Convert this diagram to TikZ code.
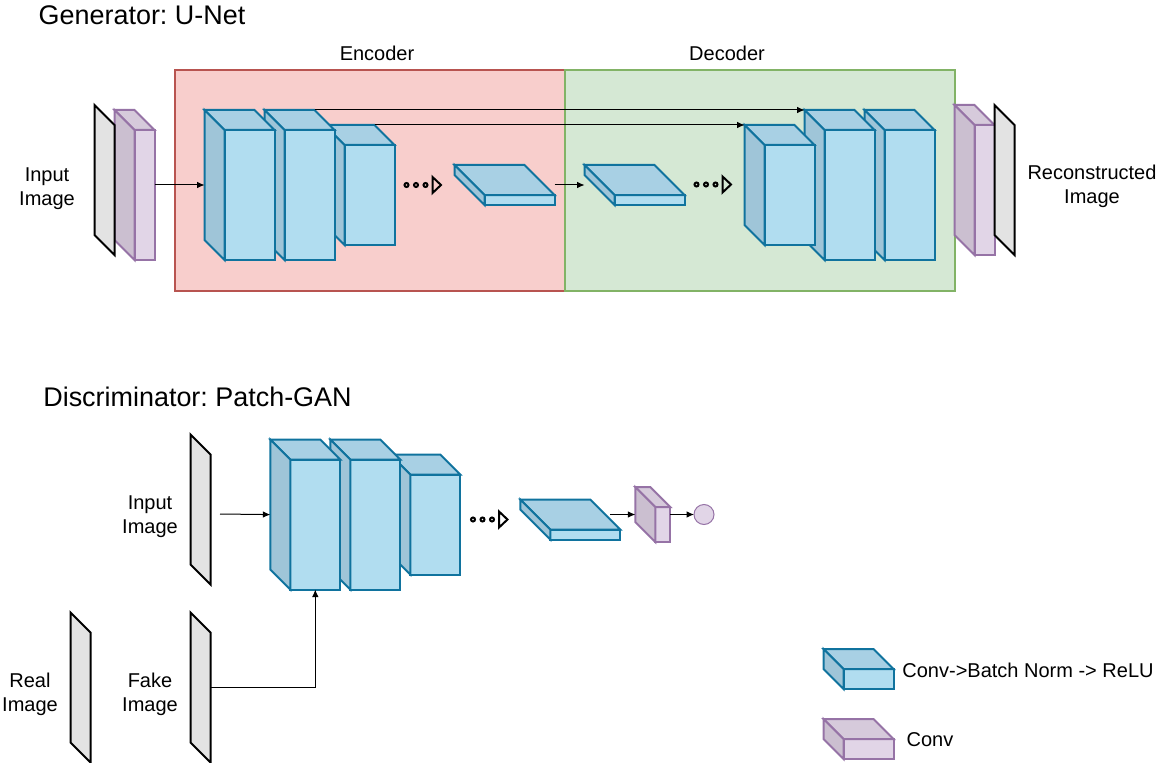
\documentclass[tikz,border=0pt]{standalone}
\usepackage{fontspec}
\setmainfont{Liberation Sans}
\usetikzlibrary{arrows.meta}
\frenchspacing
\definecolor{blueF}{HTML}{B1DDF0}\definecolor{blueT}{HTML}{A8D0E4}\definecolor{blueL}{HTML}{9FC5D8}\definecolor{blueS}{HTML}{10739E}
\definecolor{purpF}{HTML}{E1D5E7}\definecolor{purpT}{HTML}{D6CADB}\definecolor{purpL}{HTML}{CBBFD0}\definecolor{purpS}{HTML}{9673A6}
\definecolor{redF}{HTML}{F8CECC}\definecolor{redS}{HTML}{B85450}
\definecolor{greenF}{HTML}{D5E8D4}\definecolor{greenS}{HTML}{82B366}
\definecolor{slabF}{HTML}{E3E3E3}
\tikzset{
  px/.style={line width=#1*0.75pt},
  face/.style={px=2,line join=miter},
  ghost/.style={inner sep=0pt,outer sep=0pt,draw=none,fill=none},
  slabshape/.style={px=2,draw=black,fill=slabF,line join=miter},
  regionred/.style={px=2,draw=redS,fill=redF},
  regiongreen/.style={px=2,draw=greenS,fill=greenF},
  conn/.style={px=1,draw=black,-{Latex[length=5.6pt,width=5pt]}},
  lbl/.style={inner sep=0pt,outer sep=0pt,align=center,font=\fontsize{15}{18}\selectfont},
  ttl/.style={inner sep=0pt,outer sep=0pt,font=\fontsize{20.2}{24}\selectfont},
  contmark/.style={px=2,draw=black,line join=miter},
  genshift/.style={xshift=-0.375pt},
}
% name, x, y, W, H, dx, dy, colour prefix
\newcommand{\boxcube}[8]{%
  \pgfmathsetmacro{\xa}{#2}\pgfmathsetmacro{\ya}{#3}
  \pgfmathsetmacro{\xb}{#2+#6}\pgfmathsetmacro{\yb}{#3+#7}
  \pgfmathsetmacro{\xc}{#2+#4}\pgfmathsetmacro{\yc}{#3+#5}
  \pgfmathsetmacro{\xd}{#2+#4-#6}\pgfmathsetmacro{\yd}{#3+#5-#7}
  \pgfmathsetmacro{\xm}{#2+#4/2}\pgfmathsetmacro{\ym}{#3+#5/2}
  \pgfmathsetmacro{\xf}{(#2+#6+#2+#4)/2}
  \filldraw[face,draw=#8S,fill=#8F] (\xb,\yb) rectangle (\xc,\yc);
  \filldraw[face,draw=#8S,fill=#8T] (\xa,\ya) -- (\xd,\ya) -- (\xc,\yb) -- (\xb,\yb) -- cycle;
  \filldraw[face,draw=#8S,fill=#8L] (\xa,\ya) -- (\xb,\yb) -- (\xb,\yc) -- (\xa,\yd) -- cycle;
  \node[ghost,minimum width=#4*0.75pt,minimum height=#5*0.75pt] (#1) at (\xm,\ym) {};
  \coordinate (#1-bt) at (\xd,\ya);
  \coordinate (#1-fb) at (\xf,\yc);
}
% name, x, y
\newcommand{\slab}[3]{%
  \pgfmathsetmacro{\xa}{#2}\pgfmathsetmacro{\ya}{#3}
  \pgfmathsetmacro{\xb}{#2+20}\pgfmathsetmacro{\yb}{#3+20}
  \pgfmathsetmacro{\yc}{#3+150}\pgfmathsetmacro{\yd}{#3+130}
  \filldraw[slabshape] (\xa,\ya) -- (\xb,\yb) -- (\xb,\yc) -- (\xa,\yd) -- cycle;
  \pgfmathsetmacro{\xm}{#2+10}\pgfmathsetmacro{\ym}{#3+75}
  \node[ghost,minimum width=15pt,minimum height=112.5pt] (#1) at (\xm,\ym) {};
}
\newcommand{\contdots}[2]{%
  \foreach \k in {0,9.5,19}{\pgfmathsetmacro{\xk}{#1+\k}\draw[contmark] (\xk,#2) circle[radius=2];}
  \pgfmathsetmacro{\xt}{#1+26}\pgfmathsetmacro{\xu}{#1+34.5}
  \pgfmathsetmacro{\yt}{#2-8}\pgfmathsetmacro{\yu}{#2+8}
  \draw[contmark] (\xt,\yt) -- (\xu,#2) -- (\xt,\yu) -- cycle;
}
\begin{document}
\begin{tikzpicture}[x=0.75pt,y=-0.75pt]
\useasboundingbox (0,0) rectangle (1163,763);
\node[lbl] (tEnc) at (377,53.5) {Encoder};
\node[lbl] (tDec) at (727,53.5) {Decoder};
\node[ttl] (tGen) at (142,15) {Generator: U-Net};
\node[ttl] (tDis) at (197.5,397) {Discriminator: Patch-GAN};
\node[lbl] (tIn) at (47,188.5) {Input\\Image};
\node[lbl] (tRec) at (1092,186.5) {Reconstructed\\Image};
\node[lbl] (tA) at (150,516.5) {Input\\Image};
\node[lbl] (tF) at (150,694.5) {Fake\\Image};
\node[lbl] (tR) at (30,694.5) {Real\\Image};
\node[lbl] (tLB) at (1028,670.5) {Conv->Batch Norm -> ReLU};
\node[lbl] (tLP) at (930,739.5) {Conv};
\begin{scope}[genshift]
% regions
\filldraw[regionred] (175,70) rectangle (565,291);
\filldraw[regiongreen] (565,70) rectangle (955,291);
% generator input
\boxcube{pIn}{115}{110}{40}{150}{20}{20}{purp}
\slab{sIn}{95}{105}
% encoder
\boxcube{eC}{325}{125}{70}{120}{20}{20}{blue}
\boxcube{eB}{265}{110}{70}{150}{20}{20}{blue}
\boxcube{eA}{205}{110}{70}{150}{20}{20}{blue}
\contdots{407}{185}
\boxcube{eF}{455}{165}{100}{40}{30}{30}{blue}
% decoder
\boxcube{dF}{585}{165}{100}{40}{30}{30}{blue}
\contdots{697}{184.5}
\boxcube{dC}{865}{110}{70}{150}{20}{20}{blue}
\boxcube{dB}{805}{110}{70}{150}{20}{20}{blue}
\boxcube{dA}{745}{125}{70}{120}{20}{20}{blue}
% generator output
\boxcube{pOut}{955}{105}{40}{150}{20}{20}{purp}
\slab{sOut}{995}{105}
% legend
\boxcube{lgB}{824}{649}{70}{40}{20}{20}{blue}
\boxcube{lgP}{824}{719}{70}{40}{20}{20}{purp}
% generator connectors
\draw[conn] (pIn.east) -- (eA.west);
\draw[conn] (eF.east) -- (dF.west);
\draw[conn] (eB-bt) -- (dB.north west);
\draw[conn] (eC-bt) -- (dA.north west);
\end{scope}
% discriminator
\slab{sA}{190.5}{434.5}
\slab{sF}{190.5}{612.5}
\slab{sR}{70.5}{612.5}
\boxcube{xC}{390.3}{454.6}{70}{120}{20}{20}{blue}
\boxcube{xB}{330.3}{439.6}{70}{150}{20}{20}{blue}
\boxcube{xA}{270.3}{439.6}{70}{150}{20}{20}{blue}
\contdots{473}{519.5}
\boxcube{xF}{520.3}{499.6}{100}{40}{30}{30}{blue}
\boxcube{pS}{635.3}{487}{35}{55}{20}{20}{purp}
\node[ghost,circle,minimum size=15pt,px=1,draw=purpS,fill=purpF] (out) at (704,514.5) {};
% discriminator connectors
\coordinate (inA) at (220,514);
\coordinate (fxF) at (610,514.5);
\draw[conn] (inA) -- (xA.west);
\draw[conn] (fxF) -- (pS.west);
\draw[conn] (pS.east) -- (out.west);
\draw[conn] (sF.east) -| (xA-fb);
\end{tikzpicture}
\end{document}
